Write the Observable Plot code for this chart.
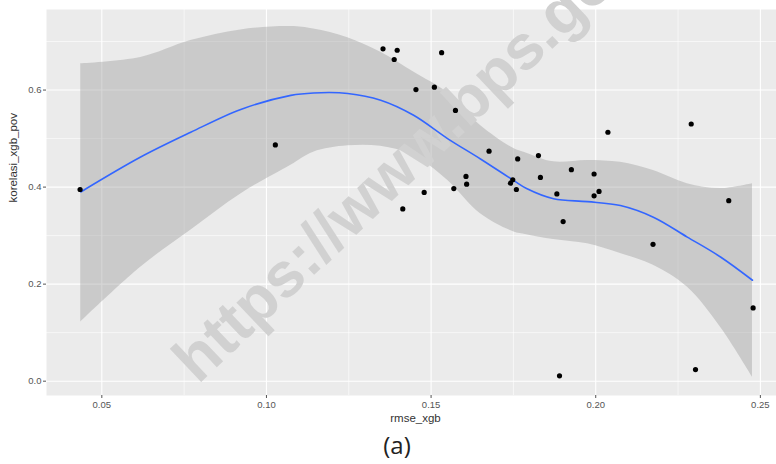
<!DOCTYPE html>
<html>
<head>
<meta charset="utf-8">
<script src="https://cdn.jsdelivr.net/npm/d3@7"></script>
<script src="https://cdn.jsdelivr.net/npm/@observablehq/plot@0.6"></script>
<style>
  html, body { margin: 0; padding: 0; background: #fff; }
  #caption { width: 776px; box-sizing: border-box; padding-left: 18px; text-align: center;
             font-family: "Open Sans", sans-serif; font-size: 24px; color: #222; line-height: 30px; margin-top: 0px; }
</style>
</head>
<body>
<div id="chart"></div>
<div id="caption">(a)</div>
<script>
// Scatter points (rmse_xgb, korelasi_xgb_pov)
const rmseXgb = [0.0434, 0.1027, 0.1354, 0.1397, 0.1388, 0.1532, 0.1454, 0.1510, 0.1574, 0.2037,
                 0.2290, 0.1676, 0.1763, 0.1826, 0.1606, 0.1608, 0.1569, 0.1479, 0.1414, 0.1748,
                 0.1741, 0.1759, 0.1832, 0.1926, 0.1995, 0.2010, 0.1995, 0.1882, 0.1901, 0.2404,
                 0.2174, 0.2478, 0.2303, 0.1890];
const korelasiXgbPov = [0.395, 0.487, 0.685, 0.682, 0.663, 0.677, 0.601, 0.606, 0.558, 0.513,
                        0.530, 0.474, 0.458, 0.465, 0.422, 0.406, 0.397, 0.389, 0.355, 0.415,
                        0.408, 0.395, 0.420, 0.436, 0.427, 0.391, 0.382, 0.386, 0.329, 0.372,
                        0.282, 0.151, 0.024, 0.011];

// Smoothed (loess) curve and its confidence band
const smoothX = [0.0436, 0.0618, 0.0770, 0.0922, 0.1074, 0.1143, 0.1247, 0.1347, 0.1447, 0.1550,
                 0.1650, 0.1750, 0.1790, 0.1872, 0.1975, 0.2075, 0.2175, 0.2278, 0.2379, 0.2476];
const smoothFit = [0.390, 0.462, 0.513, 0.560, 0.589, 0.594, 0.593, 0.579, 0.548, 0.500,
                   0.458, 0.414, 0.397, 0.376, 0.370, 0.362, 0.338, 0.297, 0.256, 0.208];
const smoothUpper = [0.654, 0.667, 0.702, 0.724, 0.731, 0.726, 0.708, 0.678, 0.637, 0.594,
                     0.527, 0.480, 0.470, 0.452, 0.455, 0.451, 0.434, 0.407, 0.397, 0.407];
const smoothLower = [0.122, 0.235, 0.311, 0.386, 0.445, 0.472, 0.485, 0.484, 0.465, 0.414,
                     0.345, 0.308, 0.302, 0.292, 0.283, 0.263, 0.239, 0.194, 0.111, 0.008];

// Tick positions
const xMajor = [0.05, 0.10, 0.15, 0.20, 0.25];
const xMinor = [0.075, 0.125, 0.175, 0.225];
const yMajor = [0.0, 0.2, 0.4, 0.6];
const yMinor = [0.1, 0.3, 0.5, 0.7];

const points = rmseXgb.map((x, i) => ({x, y: korelasiXgbPov[i]}));
const band = smoothX.map((x, i) => ({x, fit: smoothFit[i], lo: smoothLower[i], hi: smoothUpper[i]}));

const chart = Plot.plot({
  width: 776,
  height: 430,
  marginLeft: 46,
  marginRight: 0,
  marginTop: 9,
  marginBottom: 35,
  style: {background: "#fff", fontFamily: "Liberation Sans, Arial, sans-serif"},
  x: {domain: [0.0332, 0.2549]},
  y: {domain: [-0.0295, 0.766]},
  marks: [
    Plot.frame({fill: "#EBEBEB", stroke: null}),
    Plot.ruleX(xMinor, {stroke: "#fff", strokeWidth: 0.6}),
    Plot.ruleY(yMinor, {stroke: "#fff", strokeWidth: 0.6}),
    Plot.ruleX(xMajor, {stroke: "#fff", strokeWidth: 1.1}),
    Plot.ruleY(yMajor, {stroke: "#fff", strokeWidth: 1.1}),
    Plot.areaY(band, {x: "x", y1: "lo", y2: "hi", fill: "#999999", fillOpacity: 0.4, curve: "catmull-rom"}),
    Plot.line(band, {x: "x", y: "fit", stroke: "#3366FF", strokeWidth: 1.6, curve: "catmull-rom", className: "fitline"}),
    Plot.dot(points, {x: "x", y: "y", r: 2.6, fill: "#000", stroke: null, className: "pts"}),
    Plot.axisX(xMajor, {tickFormat: d3.format(".2f"), tickSize: 3, tickPadding: 3, fontSize: 9.5,
                        color: "#555", label: null}),
    Plot.axisY(yMajor, {tickFormat: d3.format(".1f"), tickSize: 3, tickPadding: 2, fontSize: 9.5,
                        color: "#555", label: null}),
    Plot.text(["rmse_xgb"], {frameAnchor: "bottom", dy: 26, fontSize: 11.5, fill: "#333", dx: 4}),
    Plot.text(["korelasi_xgb_pov"], {frameAnchor: "left", rotate: -90, dx: -33, fontSize: 11.5, fill: "#333"})
  ]
});

// Watermark, placed above the band but beneath the fitted line and points
const svg = d3.select(chart);
svg.insert("text", ".fitline")
  .attr("transform", "translate(198,385) rotate(-43.5)")
  .attr("text-anchor", "start")
  .attr("font-family", "Liberation Sans, Arial, sans-serif")
  .attr("font-weight", "bold")
  .attr("font-size", 63)
  .attr("fill", "#D1D1D1")
  .text("https://www.bps.go.id");

document.getElementById("chart").appendChild(chart);
</script>
</body>
</html>
